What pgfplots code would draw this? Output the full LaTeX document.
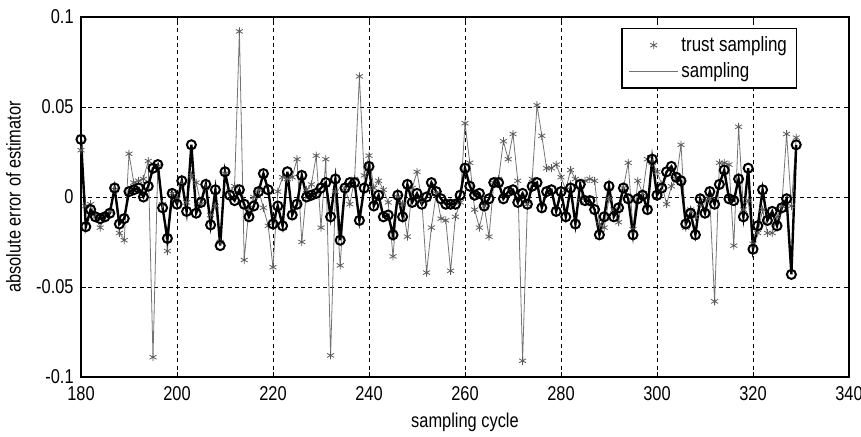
\documentclass[border=0pt]{standalone}
\usepackage{pgfplots}
\pgfplotsset{compat=1.18}
\usepackage{pgfplotstable}
\usepackage{fontspec}
\setmainfont{Liberation Sans}[FakeStretch=0.82]
\definecolor{tgray}{RGB}{90,90,90}
\definecolor{lgray}{RGB}{115,115,115}

\pgfplotstableread{
c t s
180 0.026 0.032
181 -0.005 -0.0165
182 -0.004 -0.007
183 -0.011 -0.011
184 -0.017 -0.012
185 -0.010 -0.011
186 -0.008 -0.009
187 0.004 0.005
188 -0.020 -0.015
189 -0.024 -0.012
190 0.024 0.003
191 0.008 0.004
192 0.009 0.005
193 0.010 0.000
194 0.020 0.006
195 -0.089 0.016
196 0.017 0.018
197 -0.004 -0.006
198 -0.030 -0.023
199 0.002 0.002
200 -0.001 -0.004
201 0.007 0.009
202 -0.003 -0.008
203 0.012 0.029
204 0.008 -0.009
205 -0.004 -0.003
206 0.005 0.007
207 -0.010 -0.0155
208 -0.005 0.004
209 -0.025 -0.027
210 0.013 0.014
211 0.003 0.001
212 0.006 -0.002
213 0.092 0.004
214 -0.035 -0.004
215 -0.006 -0.011
216 0.000 -0.005
217 0.004 0.003
218 -0.006 0.013
219 -0.016 0.004
220 -0.039 -0.015
221 0.003 -0.005
222 0.011 -0.016
223 0.010 0.014
224 0.011 -0.010
225 0.021 -0.004
226 -0.025 0.012
227 0.004 0.000
228 0.007 0.001
229 0.023 0.002
230 -0.017 0.005
231 0.021 0.008
232 -0.088 -0.011
233 0.003 0.010
234 -0.038 -0.024
235 0.005 0.005
236 -0.004 0.008
237 0.010 0.008
238 0.067 -0.013
239 0.012 0.005
240 0.023 0.017
241 0.005 -0.005
242 0.009 0.001
243 0.004 -0.011
244 -0.003 -0.010
245 -0.033 -0.021
246 0.000 0.001
247 -0.004 -0.011
248 -0.022 0.007
249 0.005 -0.003
250 0.014 0.002
251 -0.002 -0.004
252 -0.042 0.000
253 -0.017 0.008
254 0.002 0.003
255 -0.012 -0.001
256 -0.013 -0.004
257 -0.041 -0.004
258 -0.011 -0.004
259 -0.003 0.001
260 0.041 0.016
261 0.019 0.006
262 -0.007 0.001
263 -0.017 0.002
264 -0.005 -0.005
265 -0.022 -0.001
266 0.008 0.008
267 0.010 0.008
268 0.031 -0.001
269 0.021 0.003
270 0.035 0.004
271 0.009 -0.003
272 -0.091 0.002
273 -0.004 -0.004
274 0.010 0.006
275 0.051 0.008
276 0.034 -0.006
277 0.016 0.003
278 0.016 0.004
279 0.018 -0.008
280 0.011 0.003
281 0.004 -0.011
282 0.015 0.005
283 0.010 -0.015
284 -0.002 0.007
285 0.009 -0.002
286 0.010 -0.002
287 0.009 -0.007
288 -0.015 -0.021
289 -0.017 -0.011
290 -0.001 0.006
291 -0.007 -0.011
292 -0.014 -0.006
293 0.005 0.005
294 0.019 -0.001
295 -0.018 -0.021
296 0.009 -0.001
297 0.002 0.001
298 0.021 -0.007
299 0.019 0.021
300 0.014 0.001
301 0.007 0.005
302 -0.004 0.014
303 0.006 0.017
304 0.010 0.011
305 0.029 0.009
306 -0.017 -0.015
307 -0.007 -0.009
308 -0.011 -0.021
309 -0.004 -0.001
310 -0.002 -0.009
311 -0.001 0.003
312 -0.058 -0.004
313 0.019 0.007
314 0.019 0.015
315 0.018 -0.001
316 -0.027 -0.002
317 0.039 0.010
318 -0.007 -0.011
319 -0.002 0.016
320 -0.026 -0.029
321 -0.020 -0.016
322 -0.007 0.004
323 -0.020 -0.013
324 -0.020 -0.008
325 -0.011 -0.016
326 -0.005 -0.006
327 0.035 -0.001
328 -0.005 -0.043
329 0.033 0.029
}\datatable

\begin{document}
\begin{tikzpicture}
\begin{axis}[
  scale only axis,
  width=576pt, height=270pt,
  xmin=180, xmax=340, ymin=-0.1, ymax=0.1,
  xtick={180,200,...,340},
  ytick={-0.1,-0.05,0,0.05,0.1},
  yticklabels={-0.1,-0.05,0,0.05,0.1},
  scaled y ticks=false,
  tick align=inside,
  major tick length=4pt,
  tick style={black, line width=0.6pt},
  axis line style={black, line width=0.8pt},
  grid=major,
  major grid style={black, dash pattern=on 3pt off 2.5pt, line width=0.6pt},
  ticklabel style={font=\fontsize{15}{17}\selectfont},
  /pgf/number format/assume math mode=true,
  xticklabel style={yshift=-3.5pt},
  yticklabel style={xshift=-2pt},
  xlabel={sampling cycle},
  ylabel={absolute error of estimator},
  label style={font=\fontsize{15}{17}\selectfont},
  xlabel style={at={(axis description cs:0.5,-0.127)}, anchor=center},
  ylabel style={at={(axis description cs:-0.088,0.5)}, anchor=center},
  legend style={at={(0.932,0.969)}, anchor=north east, draw=black, line width=0.8pt,
    font=\fontsize{15.5}{18}\selectfont, inner xsep=5pt, inner ysep=4pt, row sep=3pt,
    legend cell align=left},
]
\addplot[lgray, line width=0.6pt, mark=asterisk, mark size=3pt,
  mark options={tgray, line width=0.6pt}, forget plot] table[x=c, y=t] {\datatable};
\addplot[black, line width=1.8pt, mark=o, mark size=3.4pt,
  mark options={black, line width=1.5pt, fill=white}, forget plot] table[x=c, y=s] {\datatable};
\addlegendimage{legend image code/.code={\draw[tgray, line width=0.6pt, mark=asterisk, mark size=3pt] plot coordinates {(0.65cm,0cm)};}}
\addlegendentry{trust sampling}
\addlegendimage{legend image code/.code={\draw[lgray, line width=0.6pt] (0cm,0cm) -- (1.3cm,0cm);}}
\addlegendentry{sampling}
\end{axis}
\pgfresetboundingbox
\path[use as bounding box] (current axis.south west) ++(-60.75pt,-44.25pt) rectangle ++(645.75pt,327pt);
\end{tikzpicture}
\end{document}
